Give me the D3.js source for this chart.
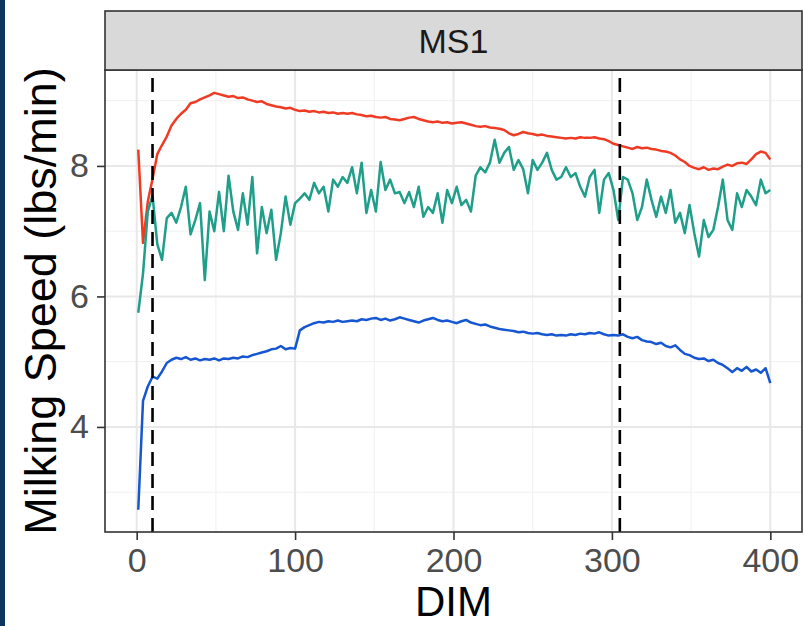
<!DOCTYPE html>
<html>
<head>
<meta charset="utf-8">
<script src="https://cdn.jsdelivr.net/npm/d3@7"></script>
<style>
  body { margin: 0; background: #ffffff; }
  svg { display: block; font-family: "Liberation Sans", Arial, sans-serif; }
</style>
</head>
<body>
<svg id="chart" width="804" height="626"></svg>
<script>

// Days in milk (every 3rd day)
var dim = [1, 4, 7, 10, 13, 16, 19, 22, 25, 28,
  31, 34, 37, 40, 43, 46, 49, 52, 55, 58,
  61, 64, 67, 70, 73, 76, 79, 82, 85, 88,
  91, 94, 97, 100, 103, 106, 109, 112, 115, 118,
  121, 124, 127, 130, 133, 136, 139, 142, 145, 148,
  151, 154, 157, 160, 163, 166, 169, 172, 175, 178,
  181, 184, 187, 190, 193, 196, 199, 202, 205, 208,
  211, 214, 217, 220, 223, 226, 229, 232, 235, 238,
  241, 244, 247, 250, 253, 256, 259, 262, 265, 268,
  271, 274, 277, 280, 283, 286, 289, 292, 295, 298,
  301, 304, 307, 310, 313, 316, 319, 322, 325, 328,
  331, 334, 337, 340, 343, 346, 349, 352, 355, 358,
  361, 364, 367, 370, 373, 376, 379, 382, 385, 388,
  391, 394, 397, 400]

// Milking speed (lbs/min), one array per line
var speed_red = [8.25, 6.82, 7.45, 7.80, 8.18, 8.32, 8.45, 8.62, 8.72, 8.80,
  8.86, 8.96, 8.98, 9.02, 9.05, 9.08, 9.12, 9.10, 9.08, 9.06,
  9.07, 9.04, 9.05, 9.02, 9.00, 8.98, 8.99, 8.95, 8.93, 8.91,
  8.90, 8.88, 8.89, 8.86, 8.84, 8.85, 8.83, 8.84, 8.82, 8.83,
  8.81, 8.82, 8.80, 8.81, 8.80, 8.81, 8.79, 8.78, 8.76, 8.77,
  8.75, 8.74, 8.75, 8.72, 8.71, 8.70, 8.72, 8.74, 8.75, 8.72,
  8.70, 8.68, 8.67, 8.68, 8.66, 8.67, 8.65, 8.66, 8.67, 8.65,
  8.63, 8.61, 8.60, 8.61, 8.59, 8.58, 8.57, 8.55, 8.50, 8.47,
  8.49, 8.52, 8.50, 8.49, 8.47, 8.48, 8.46, 8.45, 8.44, 8.43,
  8.42, 8.43, 8.42, 8.44, 8.43, 8.43, 8.44, 8.42, 8.41, 8.38,
  8.34, 8.32, 8.30, 8.28, 8.26, 8.29, 8.27, 8.28, 8.26, 8.25,
  8.23, 8.22, 8.20, 8.16, 8.10, 8.06, 8.00, 7.97, 7.95, 7.98,
  7.94, 7.96, 7.95, 7.99, 8.02, 8.00, 8.04, 8.05, 8.03, 8.10,
  8.18, 8.22, 8.20, 8.10]

var speed_teal = [5.75, 6.35, 7.30, 7.55, 6.80, 6.56, 7.20, 7.28, 7.13, 7.37,
  7.68, 6.95, 7.17, 7.43, 6.25, 7.30, 7.00, 7.60, 7.00, 7.85,
  7.30, 7.02, 7.58, 7.10, 7.83, 6.66, 7.37, 6.97, 7.33, 6.56,
  6.97, 7.53, 7.10, 7.43, 7.50, 7.58, 7.48, 7.74, 7.58, 7.68,
  7.30, 7.79, 7.68, 7.83, 7.74, 7.98, 7.58, 8.05, 7.28, 7.63,
  7.30, 8.06, 7.63, 7.79, 7.58, 7.60, 7.43, 7.60, 7.37, 7.68,
  7.22, 7.37, 7.28, 7.58, 7.13, 7.63, 7.43, 7.68, 7.40, 7.48,
  7.30, 7.85, 7.98, 7.90, 8.05, 8.40, 8.05, 8.20, 8.29, 7.94,
  8.09, 7.95, 7.58, 8.09, 7.94, 8.05, 8.20, 7.94, 7.79, 7.83,
  7.98, 7.83, 7.89, 7.68, 7.53, 7.83, 7.94, 7.28, 7.79, 7.89,
  7.63, 7.17, 7.83, 7.79, 7.58, 7.17, 7.37, 7.79, 7.48, 7.22,
  7.53, 7.28, 7.63, 7.13, 7.28, 6.97, 7.40, 6.97, 6.61, 7.17,
  6.91, 7.02, 7.37, 7.79, 7.17, 7.02, 7.58, 7.37, 7.63, 7.53,
  7.40, 7.79, 7.58, 7.63]

var speed_blue = [2.73, 4.40, 4.62, 4.77, 4.74, 4.85, 4.98, 5.03, 5.06, 5.04,
  5.07, 5.03, 5.05, 5.02, 5.04, 5.03, 5.05, 5.02, 5.05, 5.04,
  5.06, 5.05, 5.08, 5.07, 5.10, 5.12, 5.14, 5.16, 5.19, 5.20,
  5.24, 5.19, 5.21, 5.20, 5.48, 5.53, 5.56, 5.59, 5.61, 5.60,
  5.62, 5.61, 5.63, 5.61, 5.62, 5.63, 5.62, 5.65, 5.64, 5.66,
  5.67, 5.64, 5.66, 5.63, 5.65, 5.68, 5.66, 5.64, 5.62, 5.60,
  5.63, 5.65, 5.67, 5.64, 5.62, 5.63, 5.61, 5.59, 5.62, 5.64,
  5.60, 5.58, 5.56, 5.57, 5.54, 5.52, 5.50, 5.49, 5.48, 5.47,
  5.45, 5.46, 5.44, 5.43, 5.44, 5.42, 5.41, 5.42, 5.40, 5.41,
  5.40, 5.42, 5.41, 5.43, 5.42, 5.44, 5.43, 5.45, 5.42, 5.40,
  5.41, 5.40, 5.42, 5.38, 5.36, 5.38, 5.33, 5.31, 5.30, 5.27,
  5.29, 5.24, 5.22, 5.25, 5.18, 5.12, 5.10, 5.06, 5.04, 5.05,
  5.01, 5.03, 4.98, 4.95, 4.90, 4.84, 4.90, 4.86, 4.92, 4.85,
  4.88, 4.83, 4.90, 4.67]

var line_colors = ["#f03b24", "#1f9e89", "#1656d0"]
var vlines = [10, 305]   // dashed reference days
var x_ticks = [0, 100, 200, 300, 400]
var x_minor = [50, 150, 250, 350]
var y_ticks = [4, 6, 8]
var y_minor = [3, 5, 7, 9]
var facet_label = "MS1"

var svg = d3.select("#chart")

var panel = { left: 105, right: 802, top: 70, bottom: 532 }
var strip_top = 11

var xscale = d3.scaleLinear().domain([-20, 420]).range([panel.left, panel.right])
var yscale = d3.scaleLinear().domain([2.39, 9.47]).range([panel.bottom, panel.top])

// dark edge on the left of the slide
svg.append("rect")
  .attr("x", 0).attr("y", 0)
  .attr("width", 5).attr("height", 626)
  .attr("fill", "#0c355f")

// grid
var grid = svg.append("g").attr("class", "grid")

grid.selectAll(".xminor").data(x_minor).enter().append("line")
  .attr("x1", function (d) { return xscale(d) }).attr("x2", function (d) { return xscale(d) })
  .attr("y1", panel.top).attr("y2", panel.bottom)
  .attr("stroke", "#f0f0f0").attr("stroke-width", 1)

grid.selectAll(".yminor").data(y_minor).enter().append("line")
  .attr("y1", function (d) { return yscale(d) }).attr("y2", function (d) { return yscale(d) })
  .attr("x1", panel.left).attr("x2", panel.right)
  .attr("stroke", "#f0f0f0").attr("stroke-width", 1)

grid.selectAll(".xmajor").data(x_ticks).enter().append("line")
  .attr("x1", function (d) { return xscale(d) }).attr("x2", function (d) { return xscale(d) })
  .attr("y1", panel.top).attr("y2", panel.bottom)
  .attr("stroke", "#e8e8e8").attr("stroke-width", 2)

grid.selectAll(".ymajor").data(y_ticks).enter().append("line")
  .attr("y1", function (d) { return yscale(d) }).attr("y2", function (d) { return yscale(d) })
  .attr("x1", panel.left).attr("x2", panel.right)
  .attr("stroke", "#e8e8e8").attr("stroke-width", 2)

// lines
var series = [speed_red, speed_teal, speed_blue]

var line = d3.line()
  .x(function (d, i) { return xscale(dim[i]) })
  .y(function (d) { return yscale(d) })

svg.append("g")
  .selectAll("path")
  .data(series)
  .enter()
  .append("path")
  .attr("d", line)
  .attr("fill", "none")
  .attr("stroke", function (d, i) { return line_colors[i] })
  .attr("stroke-width", 2.5)
  .attr("stroke-linejoin", "round")

// dashed vertical markers
svg.selectAll(".vline").data(vlines).enter().append("line")
  .attr("class", "vline")
  .attr("x1", function (d) { return xscale(d) }).attr("x2", function (d) { return xscale(d) })
  .attr("y1", panel.top + 8).attr("y2", panel.bottom)
  .attr("stroke", "#000").attr("stroke-width", 2.6)
  .attr("stroke-dasharray", "14,8")

// panel border
svg.append("rect")
  .attr("x", panel.left).attr("y", panel.top)
  .attr("width", panel.right - panel.left).attr("height", panel.bottom - panel.top)
  .attr("fill", "none").attr("stroke", "#333").attr("stroke-width", 1.6)

// facet strip
svg.append("rect")
  .attr("x", panel.left).attr("y", strip_top)
  .attr("width", panel.right - panel.left).attr("height", panel.top - strip_top)
  .attr("fill", "#d9d9d9").attr("stroke", "#333").attr("stroke-width", 1.6)

svg.append("text")
  .attr("x", (panel.left + panel.right) / 2).attr("y", 53)
  .attr("text-anchor", "middle")
  .style("font-size", "34px").attr("fill", "#1a1a1a")
  .text(facet_label)

// axes
var xAxis = d3.axisBottom(xscale).tickValues(x_ticks).tickSize(8).tickPadding(8)
var yAxis = d3.axisLeft(yscale).tickValues(y_ticks).tickSize(8).tickPadding(8)

var gx = svg.append("g")
  .attr("transform", "translate(0," + panel.bottom + ")")
  .call(xAxis)
var gy = svg.append("g")
  .attr("transform", "translate(" + panel.left + ",0)")
  .call(yAxis)

gx.select(".domain").remove()
gy.select(".domain").remove()
svg.selectAll(".tick line").attr("stroke", "#333").attr("stroke-width", 1.6)
svg.selectAll(".tick text")
  .attr("fill", "#4d4d4d")
  .style("font-size", "34px")
  .style("font-family", "'Liberation Sans', Arial, sans-serif")

// axis titles
svg.append("text")
  .attr("x", (panel.left + panel.right) / 2).attr("y", 616)
  .attr("text-anchor", "middle")
  .style("font-size", "42px").attr("fill", "#000")
  .text("DIM")

svg.append("text")
  .attr("transform", "translate(56," + ((panel.top + panel.bottom) / 2) + ") rotate(-90)")
  .attr("text-anchor", "middle")
  .style("font-size", "45px").attr("fill", "#000")
  .text("Milking Speed (lbs/min)")

</script>
</body>
</html>
